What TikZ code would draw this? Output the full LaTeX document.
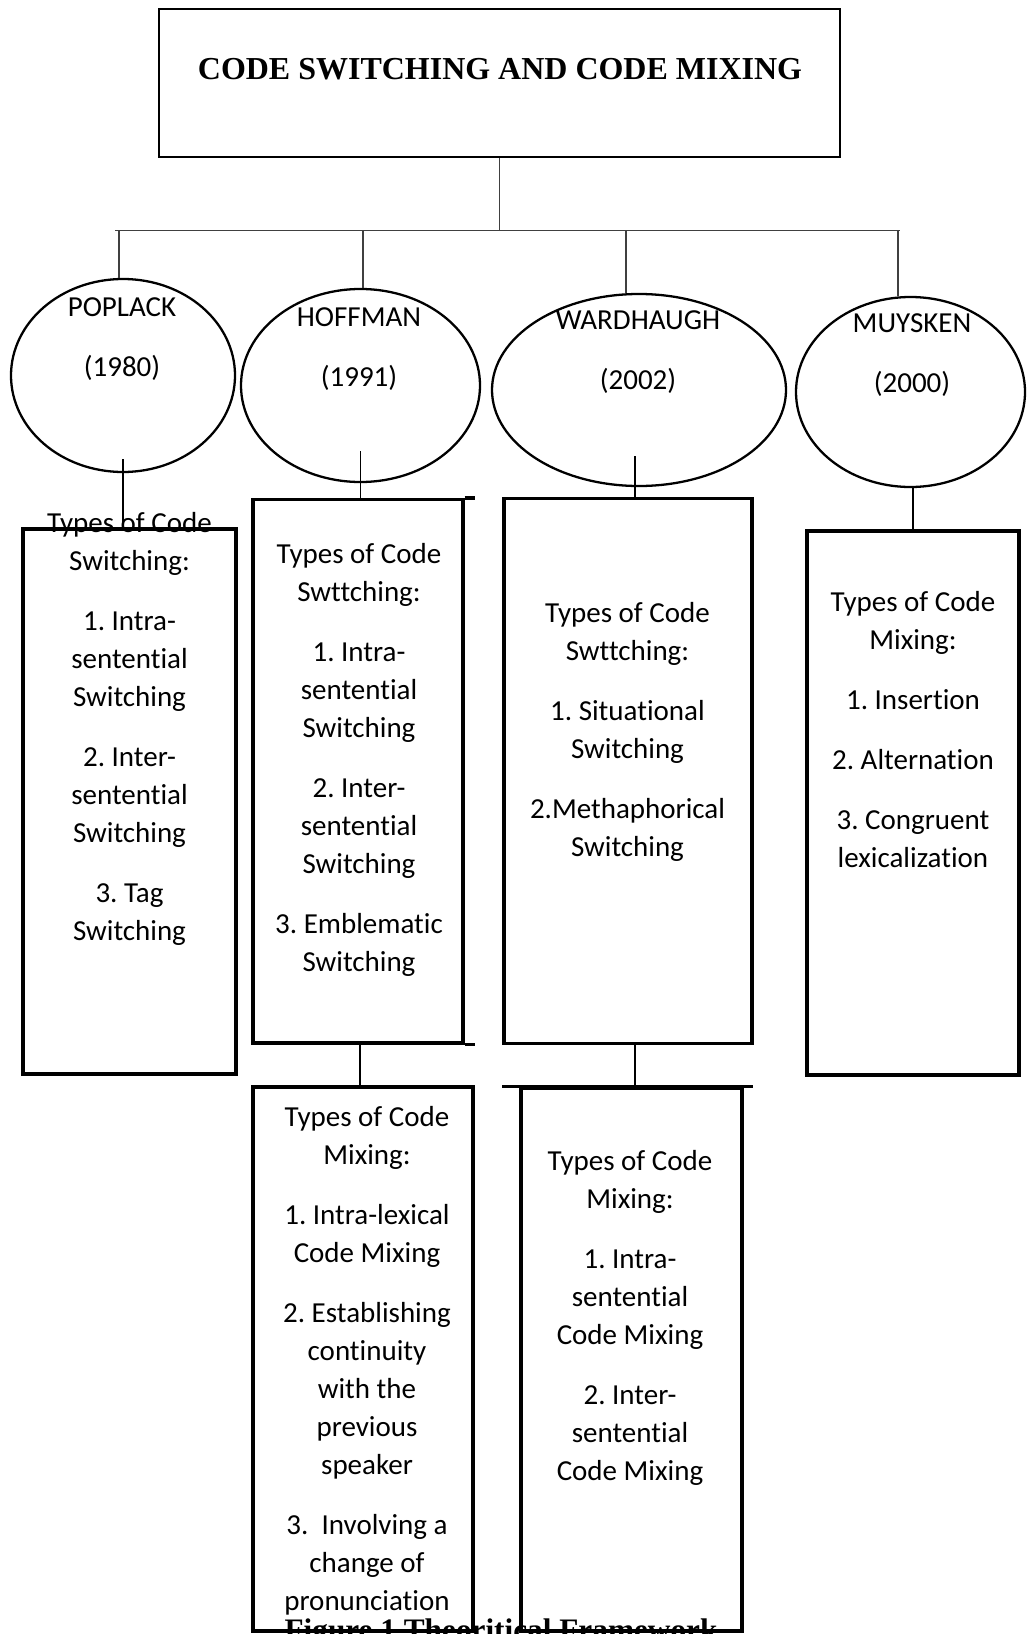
\documentclass[tikz,border=0pt]{standalone}
\usepackage{fontspec}
\setmainfont{Carlito}[Ligatures=NoCommon]
\newfontfamily\serifbold{Liberation Serif}
\usetikzlibrary{shapes.geometric}

\begin{document}
\begin{tikzpicture}[
        box/.style={draw, rectangle, line width=1.9pt, inner sep=0pt},
        oval/.style={draw, ellipse, line width=1.3pt, inner sep=0pt},
        body/.style={font=\fontsize{16.5}{21.6}\selectfont\frenchspacing, align=center, inner sep=0pt, anchor=north},
        thin/.style={line width=0.6pt, black!75},
        link/.style={line width=1.1pt}
    ]
        \useasboundingbox (0,0) rectangle (20.52,-32.68);
        \clip (0,0) rectangle (20.52,-32.68);

        % Caption (cut off at the bottom edge)
        \node[anchor=base, font=\serifbold\bfseries\fontsize{17.8}{20}\selectfont] (caption) at (10.02,-32.80) {Figure 1 Theoritical Framework};

        % Title
        \node[draw, rectangle, line width=1.5pt, minimum width=13.62cm, minimum height=2.96cm] (title) at (9.99,-1.66) {};
        \node[anchor=base, font=\serifbold\bfseries\fontsize{18.2}{22}\selectfont] (titletext) at (10.00,-1.60) {CODE SWITCHING AND CODE MIXING};

        % Bar under the title
        \coordinate (barL) at (2.30,-4.61);
        \coordinate (barR) at (18.00,-4.61);
        \draw[thin] (title.south) -- (title.south |- barL);
        \draw[thin] (barL) -- (barR);

        % Authors
        \node[oval, minimum width=4.48cm, minimum height=3.86cm] (pop) at (2.46,-7.51) {};
        \node[oval, minimum width=4.78cm, minimum height=3.86cm] (hof) at (7.21,-7.71) {};
        \node[oval, minimum width=5.88cm, minimum height=3.84cm] (ward) at (12.78,-7.80) {};
        \node[oval, minimum width=4.58cm, minimum height=3.80cm] (muy) at (18.21,-7.84) {};

        \node[body] (tpop) at (2.44,-5.94) {POPLACK\\[0.44cm](1980)};
        \node[body] (thof) at (7.18,-6.14) {HOFFMAN\\[0.44cm](1991)};
        \node[body] (tward) at (12.76,-6.20) {WARDHAUGH\\[0.44cm](2002)};
        \node[body] (tmuy) at (18.24,-6.26) {MUYSKEN\\[0.44cm](2000)};

        % Drops from the bar
        \foreach \x/\n in {2.38/pop, 7.26/hof, 12.52/ward, 17.96/muy} {
            \coordinate (d\n) at (\x,-4.61);
            \draw[thin] (d\n) -- (d\n |- \n.north);
        }

        % Boxes
        \node[box, minimum width=4.26cm, minimum height=10.90cm] (swpop) at (2.59,-16.03) {};
        \node[box, minimum width=4.20cm, minimum height=10.87cm] (swhof) at (7.16,-15.425) {};
        \node[box, minimum width=4.96cm, minimum height=10.90cm] (swward) at (12.56,-15.42) {};
        \node[box, minimum width=4.24cm, minimum height=10.88cm] (mixmuy) at (18.26,-16.06) {};
        \node[box, minimum width=4.40cm, minimum height=10.88cm] (mixhof) at (7.26,-27.18) {};
        \node[box, minimum width=4.42cm, minimum height=10.86cm] (mixward) at (12.63,-27.19) {};

        % Stray edges
        \draw[line width=1.9pt] (swhof.north east) -- ++(0.2,0);
        \draw[line width=1.9pt] (swhof.south east) -- ++(0.2,0);
        \draw[line width=1.9pt] ([xshift=-0.34cm]mixward.north west) -- ([xshift=0.18cm]mixward.north east);

        % Links to the boxes
        \draw[link, line width=0.7pt] ([yshift=0.28cm]pop.south) -- (pop.south |- swpop.north);
        \draw[link] ([yshift=0.64cm]hof.south) -- (hof.south |- swhof.north);
        \draw[link] ([xshift=-0.08cm,yshift=0.62cm]ward.south) -- ([xshift=-0.08cm]ward.south |- swward.north);
        \draw[link, line width=0.7pt] (mixmuy.north |- muy.south) -- (mixmuy.north);
        \draw[link] ([xshift=0.04cm]swhof.south) -- ([xshift=0.04cm]swhof.south |- mixhof.north);
        \draw[link] ([xshift=0.14cm]swward.south) -- ([xshift=0.14cm]swward.south |- mixward.north);

        % Box texts
        \node[body] (tswpop) at (2.59,-10.24) {Types of Code\\Switching:\\[0.44cm]1. Intra-\\sentential\\Switching\\[0.44cm]2. Inter-\\sentential\\Switching\\[0.44cm]3. Tag\\Switching};
        \node[body] (tswhof) at (7.18,-10.86) {Types of Code\\Swttching:\\[0.44cm]1. Intra-\\sentential\\Switching\\[0.44cm]2. Inter-\\sentential\\Switching\\[0.44cm]3. Emblematic\\Switching};
        \node[body] (tswward) at (12.55,-12.04) {Types of Code\\Swttching:\\[0.44cm]1. Situational\\Switching\\[0.44cm]2.Methaphorical\\Switching};
        \node[body] (tmixmuy) at (18.26,-11.82) {Types of Code\\Mixing:\\[0.44cm]1. Insertion\\[0.44cm]2. Alternation\\[0.44cm]3. Congruent\\lexicalization};
        \node[body] (tmixhof) at (7.34,-22.12) {Types of Code\\Mixing:\\[0.44cm]1. Intra-lexical\\Code Mixing\\[0.44cm]2. Establishing\\continuity\\with the\\previous\\speaker\\[0.44cm]3.~ Involving a\\change of\\pronunciation};
        \node[body] (tmixward) at (12.60,-23.00) {Types of Code\\Mixing:\\[0.44cm]1. Intra-\\sentential\\Code Mixing\\[0.44cm]2. Inter-\\sentential\\Code Mixing};
    \end{tikzpicture}
\end{document}
